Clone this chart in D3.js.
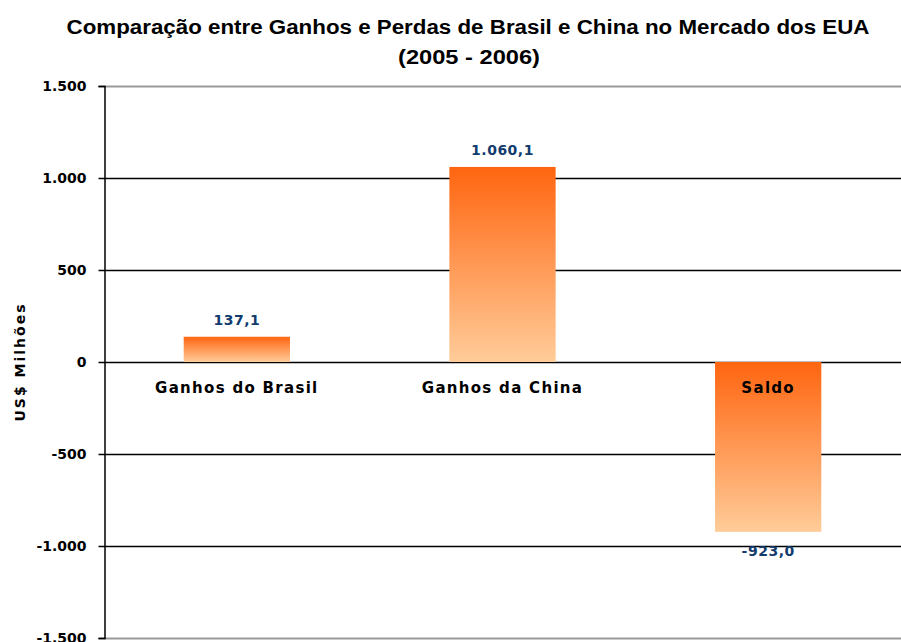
<!DOCTYPE html>
<html>
<head>
<meta charset="utf-8">
<script src="https://cdn.jsdelivr.net/npm/d3@7"></script>
<style>
  body { margin: 0; background: #fff; }
  svg { display: block; }
  .tick text { font-family: 'DejaVu Sans', Verdana, sans-serif; font-weight: bold; font-size: 14px; fill: #000; }
</style>
</head>
<body>
<div id="chart"></div>
<script>
const categories = ['Ganhos do Brasil', 'Ganhos da China', 'Saldo']
const values = [137.1, 1060.1, -923.0]
const yTicks = [-1500, -1000, -500, 0, 500, 1000, 1500]

const width = 901
const height = 642
const margin = { top: 86, left: 104, right: 0, bottom: 4 }

const locale = d3.formatLocale({ decimal: ',', thousands: '.', grouping: [3], currency: ['R$', ''], minus: '-' })
const fmtTick = locale.format(',d')
const fmtVal = locale.format(',.1f')

const svg = d3
  .select('#chart')
  .append('svg')
  .attr('width', width)
  .attr('height', height)

const defs = svg.append('defs')
const grad = defs
  .append('linearGradient')
  .attr('id', 'barGrad')
  .attr('x1', 0)
  .attr('y1', 0)
  .attr('x2', 0)
  .attr('y2', 1)
grad.append('stop').attr('offset', '0%').attr('stop-color', '#ff6510')
grad.append('stop').attr('offset', '100%').attr('stop-color', '#ffcc99')

const x = d3
  .scaleBand()
  .domain(categories)
  .range([margin.left, width - margin.right])
  .padding(0)

const y = d3
  .scaleLinear()
  .domain([-1500, 1500])
  .range([height - margin.bottom, margin.top])

// title (narrow bold face squeezed to the reference width)
svg
  .append('text')
  .attr('x', 468)
  .attr('y', 34)
  .attr('text-anchor', 'middle')
  .attr('textLength', 803)
  .attr('lengthAdjust', 'spacingAndGlyphs')
  .style('font-family', "'Liberation Sans', Arial, sans-serif")
  .style('font-weight', 'bold')
  .style('font-size', '20px')
  .text('Comparação entre Ganhos e Perdas de Brasil e China no Mercado dos EUA')

svg
  .append('text')
  .attr('x', 469)
  .attr('y', 64)
  .attr('text-anchor', 'middle')
  .attr('textLength', 142)
  .attr('lengthAdjust', 'spacingAndGlyphs')
  .style('font-family', "'Liberation Sans', Arial, sans-serif")
  .style('font-weight', 'bold')
  .style('font-size', '20px')
  .text('(2005 - 2006)')

// gridlines
svg
  .append('g')
  .selectAll('line')
  .data(yTicks)
  .enter()
  .append('line')
  .attr('x1', margin.left)
  .attr('x2', width)
  .attr('y1', d => y(d) + 0.5)
  .attr('y2', d => y(d) + 0.5)
  .attr('stroke', d => (Math.abs(d) === 1500 ? '#999' : '#000'))
  .attr('stroke-width', d => (Math.abs(d) === 1500 ? 2 : 1.5))

// y axis
const yAxis = svg
  .append('g')
  .attr('transform', 'translate(' + (margin.left + 0.5) + ',0)')
  .call(
    d3.axisLeft(y)
      .tickValues(yTicks)
      .tickFormat(fmtTick)
      .tickSize(6)
      .tickPadding(12)
  )
yAxis.select('.domain').attr('stroke', '#000').attr('stroke-width', 1.5)
yAxis.selectAll('.tick line').attr('stroke', '#000').attr('stroke-width', 1.5)

// y axis title
svg
  .append('text')
  .attr('transform', 'translate(25,' + y(0) + ') rotate(-90)')
  .attr('text-anchor', 'middle')
  .style('font-family', "'DejaVu Sans', Verdana, sans-serif")
  .style('font-weight', 'bold')
  .style('font-size', '14px')
  .style('letter-spacing', '2px')
  .text('US$ Milhões')

// bars
const barW = x.bandwidth() * 0.4
svg
  .append('g')
  .selectAll('rect')
  .data(values)
  .enter()
  .append('rect')
  .attr('x', (d, i) => x(categories[i]) + (x.bandwidth() - barW) / 2)
  .attr('y', d => y(Math.max(0, d)))
  .attr('width', barW)
  .attr('height', d => Math.abs(y(d) - y(0)))
  .attr('fill', 'url(#barGrad)')

// category labels (sit just below the zero line)
svg
  .append('g')
  .selectAll('text')
  .data(categories)
  .enter()
  .append('text')
  .attr('x', d => x(d) + x.bandwidth() / 2)
  .attr('y', y(0) + 31)
  .attr('text-anchor', 'middle')
  .style('font-family', "'DejaVu Sans', Verdana, sans-serif")
  .style('font-weight', 'bold')
  .style('font-size', '15px')
  .style('letter-spacing', '1.3px')
  .text(d => d)

// value labels
svg
  .append('g')
  .selectAll('text')
  .data(values)
  .enter()
  .append('text')
  .attr('x', (d, i) => x(categories[i]) + x.bandwidth() / 2)
  .attr('y', d => (d >= 0 ? y(d) - 12 : y(d) + 24))
  .attr('text-anchor', 'middle')
  .attr('fill', '#123c6e')
  .style('font-family', "'DejaVu Sans', Verdana, sans-serif")
  .style('font-weight', 'bold')
  .style('font-size', '14px')
  .style('letter-spacing', '0.5px')
  .text(d => fmtVal(d))
</script>
</body>
</html>
